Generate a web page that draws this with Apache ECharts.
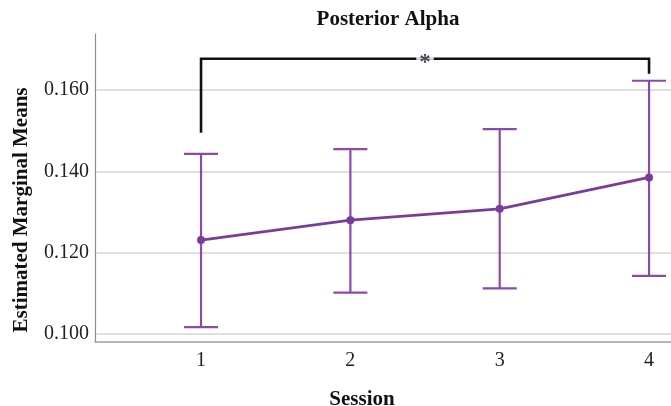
<!DOCTYPE html>
<html>
<head>
<meta charset="utf-8">
<script src="https://cdn.jsdelivr.net/npm/echarts@6/dist/echarts.min.js"></script>
<style>
  html, body { margin: 0; padding: 0; background: #fff; }
  #chart { width: 671px; height: 406px; }
</style>
</head>
<body>
<div id="chart"></div>
<script>
// Estimated marginal means of posterior alpha per session, with 95% CI
const sessions = [1, 2, 3, 4];
const means = [0.1231, 0.1280, 0.1308, 0.1385];
const ciLower = [0.1017, 0.1102, 0.1112, 0.1143];
const ciUpper = [0.1443, 0.1455, 0.1504, 0.1623];
const yTicks = [0.100, 0.120, 0.140, 0.160];

// Significance bracket between session 1 and session 4
const bracketFrom = 1;
const bracketTo = 4;
const bracketTop = 0.1677;
const bracketLeftEnd = 0.1495;
const bracketRightEnd = 0.1640;
const bracketMark = '*';

const serif = '"Liberation Serif", "Times New Roman", serif';
const purple = '#7a3c9a';
const barPurple = '#8a4aa8';

const chart = echarts.init(document.getElementById('chart'), null, { renderer: 'canvas' });

const bracketPoints = [
  [bracketFrom, bracketLeftEnd],
  [bracketFrom, bracketTop],
  [bracketTo, bracketTop],
  [bracketTo, bracketRightEnd]
];

chart.setOption({
  animation: false,
  title: [
    {
      text: 'Posterior Alpha',
      left: 383, top: 4, textAlign: 'center',
      textStyle: { fontFamily: serif, fontWeight: 'bold', fontSize: 21, color: '#111' }
    },
    {
      text: 'Session',
      left: 357, top: 384, textAlign: 'center',
      textStyle: { fontFamily: serif, fontWeight: 'bold', fontSize: 21, color: '#111' }
    }
  ],
  graphic: [{
    type: 'text',
    x: 22, y: 210,
    rotation: Math.PI / 2,
    style: {
      text: 'Estimated Marginal Means',
      font: 'bold 21px ' + serif,
      fill: '#111',
      align: 'center', verticalAlign: 'middle',
      textAlign: 'center', textVerticalAlign: 'middle'
    }
  }],
  grid: { left: 95, right: 0, top: 34, bottom: 64, containLabel: false },
  xAxis: {
    type: 'value',
    min: 0.29, max: 4.147,
    axisLine: { show: true, lineStyle: { color: '#a0a0a0', width: 1.5 } },
    axisTick: { show: false, customValues: sessions },
    axisLabel: {
      customValues: sessions,
      margin: 9,
      fontFamily: serif, fontSize: 20, color: '#222',
      formatter: v => String(v)
    },
    splitLine: { show: false }
  },
  yAxis: {
    type: 'value',
    min: 0.09803, max: 0.1738,
    axisLine: { show: true, lineStyle: { color: '#8c8c8c', width: 1.2 } },
    axisTick: { show: false, customValues: yTicks },
    axisLabel: {
      customValues: yTicks,
      margin: 6,
      fontFamily: serif, fontSize: 20, color: '#222',
      formatter: v => v.toFixed(3)
    },
    splitLine: { show: true, lineStyle: { color: '#d6d6d6', width: 1.5 } }
  },
  series: [
    {
      type: 'custom',
      name: 'CI',
      data: sessions.map((s, i) => [s, ciLower[i], ciUpper[i]]),
      renderItem: function (params, api) {
        const x = api.value(0);
        const lo = api.coord([x, api.value(1)]);
        const hi = api.coord([x, api.value(2)]);
        const half = 17;
        const style = { stroke: barPurple, lineWidth: 2.2, fill: null };
        return {
          type: 'group',
          children: [
            { type: 'line', shape: { x1: lo[0], y1: lo[1], x2: hi[0], y2: hi[1] }, style },
            { type: 'line', shape: { x1: hi[0] - half, y1: hi[1], x2: hi[0] + half, y2: hi[1] }, style },
            { type: 'line', shape: { x1: lo[0] - half, y1: lo[1], x2: lo[0] + half, y2: lo[1] }, style }
          ]
        };
      },
      z: 2
    },
    {
      type: 'line',
      name: 'Mean',
      data: sessions.map((s, i) => [s, means[i]]),
      symbol: 'circle',
      symbolSize: 8,
      lineStyle: { color: purple, width: 2.8 },
      itemStyle: { color: purple },
      z: 3
    },
    {
      type: 'line',
      name: 'bracket',
      data: bracketPoints,
      symbol: 'none',
      lineStyle: { color: '#111', width: 2.6, join: 'miter', cap: 'butt' },
      z: 4,
      silent: true
    },
    {
      type: 'scatter',
      name: 'significance',
      data: [[(bracketFrom + bracketTo) / 2, bracketTop]],
      symbolSize: 0,
      label: {
        show: true,
        position: 'inside',
        formatter: bracketMark,
        fontFamily: serif, fontWeight: 'bold', fontSize: 23, color: '#1a1a2a',
        backgroundColor: '#fff',
        padding: [0, 3, 0, 3],
        lineHeight: 14,
        offset: [0, 4]
      },
      z: 5,
      silent: true
    }
  ]
});
</script>
</body>
</html>
